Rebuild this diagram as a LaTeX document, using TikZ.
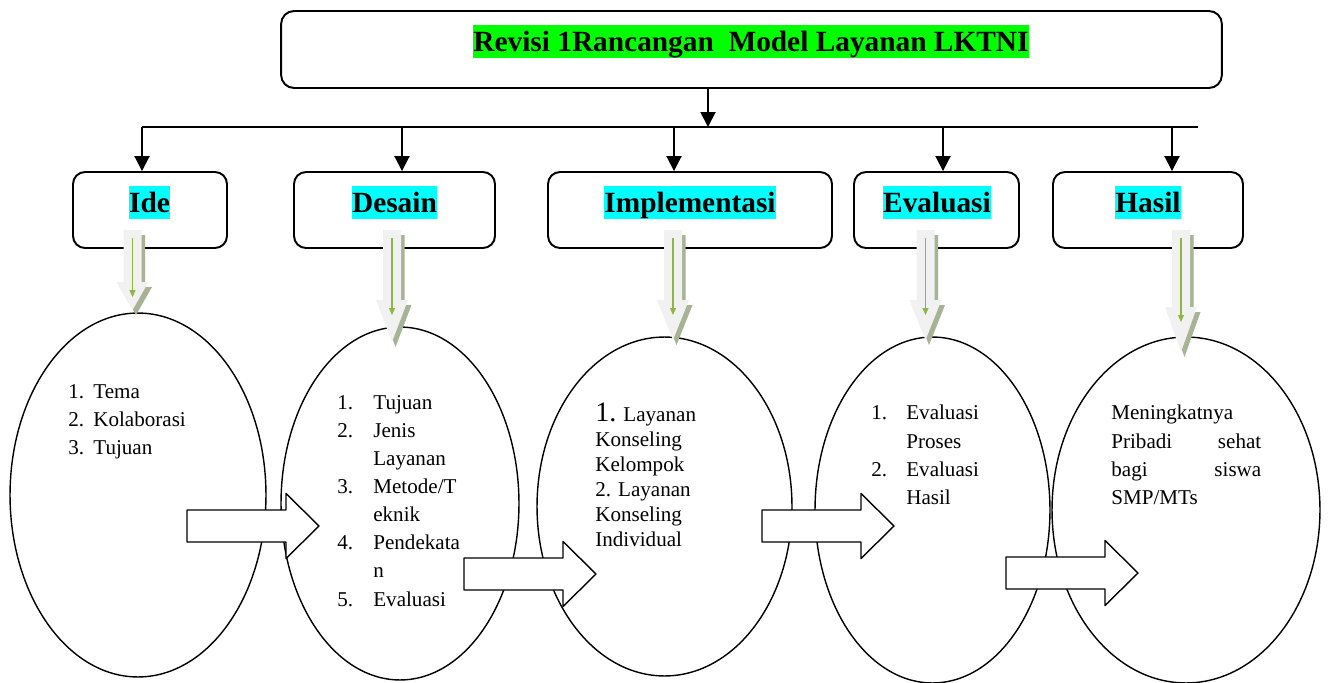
\documentclass[tikz,border=0pt]{standalone}
\usepackage{fontspec}
\setmainfont{Liberation Serif}
\usetikzlibrary{arrows.meta,shapes.geometric}
\definecolor{hijauterang}{RGB}{0,255,0}
\definecolor{birumuda}{RGB}{0,255,255}
\definecolor{abumuda}{RGB}{241,241,241}
\definecolor{bayangan}{RGB}{166,179,148}
\definecolor{hijaudaun}{RGB}{141,182,69}
\newcommand{\butir}[2]{\makebox[#1][l]{#2}}
\begin{document}
\begin{tikzpicture}[x=0.02cm,y=-0.02cm,line join=round,>={Triangle[length=3mm,width=3mm]},
	kotak/.style={draw,line width=1.1pt,rounded corners=0.24cm,minimum height=1.52cm,inner sep=0pt},
	sorot/.style={fill=#1,inner sep=0pt,text height=15pt,text depth=3.8pt,anchor=base,font=\bfseries\fontsize{16.7}{20}\selectfont},
	lingkar/.style={draw,ellipse,line width=0.8pt,inner sep=0pt},
	isi/.style={anchor=north west,inner sep=0pt,align=left,font=\fontsize{12}{16}\selectfont},
	garis/.style={line width=1.1pt},
	blok/.style={draw,fill=white,line width=0.8pt}]
	\useasboundingbox (0,0) rectangle (1330,683);
	% ellips
	\node[lingkar,minimum width=5.12cm,minimum height=7.28cm] (eIde) at (138,495) {};
	\node[lingkar,minimum width=4.76cm,minimum height=7.06cm] (eDesain) at (400,503.5) {};
	\node[lingkar,minimum width=5.1cm,minimum height=6.78cm] (eImpl) at (664.5,506.5) {};
	\node[lingkar,minimum width=4.7cm,minimum height=6.92cm] (eEval) at (932.5,510) {};
	\node[lingkar,minimum width=5.36cm,minimum height=6.92cm] (eHasil) at (1186,510) {};
	% panah blok
	\foreach \x/\y in {187/526,464/574,762/526,1006/573}
		\draw[blok] (\x,\y-16) -- ++(99,0) -- ++(0,-16.5) -- ++(33,32.5) -- ++(-33,32.5) -- ++(0,-16.5) -- ++(-99,0) -- cycle;
	% isi
	\node[isi] (tIde) at (68,384) {\butir{0.5cm}{1.}Tema\\ \butir{0.5cm}{2.}Kolaborasi\\ \butir{0.5cm}{3.}Tujuan};
	\node[isi] (tDesain) at (337,395) {\butir{0.72cm}{1.}Tujuan\\ \butir{0.72cm}{2.}Jenis\\ \hspace*{0.72cm}Layanan\\ \butir{0.72cm}{3.}Metode/T\\ \hspace*{0.72cm}eknik\\ \butir{0.72cm}{4.}Pendekata\\ \hspace*{0.72cm}n\\ \butir{0.72cm}{5.}Evaluasi};
	\node[isi,font=\fontsize{12}{14.2}\selectfont] (tImpl) at (595,403) {{\fontsize{16}{14.2}\selectfont 1.} Layanan\\ Konseling\\ Kelompok\\ 2. Layanan\\ Konseling\\ Individual};
	\node[isi] (tEval) at (871,405) {\butir{0.7cm}{1.}Evaluasi\\ \hspace*{0.7cm}Proses\\ \butir{0.7cm}{2.}Evaluasi\\ \hspace*{0.7cm}Hasil};
	\node[isi] (tHasil) at (1111,405) {Meningkatnya\\ \makebox[3cm][s]{Pribadi\hfill sehat}\\ \makebox[3cm][s]{bagi\hfill siswa}\\ SMP/MTs};
	% kotak
	\node[kotak,minimum width=18.82cm,minimum height=1.54cm,rounded corners=0.26cm] (judul) at (751.5,49.5) {};
	\node[sorot=hijauterang] (tJudul) at (751,51.5) {Revisi 1Rancangan\ \ Model Layanan LKTNI};
	\node[kotak,minimum width=3.08cm] (ide) at (150,210) {};
	\node[kotak,minimum width=4.02cm] (desain) at (394.5,210) {};
	\node[kotak,minimum width=5.68cm] (impl) at (690,210) {};
	\node[kotak,minimum width=3.3cm] (eval) at (936.5,210) {};
	\node[kotak,minimum width=3.8cm] (hasil) at (1148,210) {};
	\node[sorot=birumuda] (lIde) at (149.5,212.5) {Ide};
	\node[sorot=birumuda] (lDesain) at (394.5,212.5) {Desain};
	\node[sorot=birumuda] (lImpl) at (690,212.5) {Implementasi};
	\node[sorot=birumuda] (lEval) at (937,212.5) {Evaluasi};
	\node[sorot=birumuda] (lHasil) at (1148,212.5) {Hasil};
	% penghubung
	\coordinate (busKiri) at (142,127);
	\coordinate (busKanan) at (1198,127);
	\draw[garis,->] (judul.south -| 708,0) -- (708,127);
	\draw[garis] (busKiri) -- (busKanan);
	\foreach \n/\x in {ide/142,desain/402,impl/674,eval/943,hasil/1172}
		\draw[garis,->] (\x,127) -- (\x,0 |- \n.north);
	% panah hijau
	\foreach \c/\h/\t in {132.5/282/310,392/300/342,673/300/340,925.5/300/340,1181/307/352}{
		\fill[bayangan,shift={(3.5,5)}] (\c-9,230) -- (\c+9,230) -- (\c+9,\h) -- (\c+16,\h) -- (\c,\t) -- (\c-16,\h) -- (\c-9,\h) -- cycle;
		\fill[abumuda] (\c-9,230) -- (\c+9,230) -- (\c+9,\h) -- (\c+16,\h) -- (\c,\t) -- (\c-16,\h) -- (\c-9,\h) -- cycle;
		\draw[hijaudaun,line width=0.6pt,-{Triangle[length=1.4mm,width=1.2mm]}] (\c,238) -- (\c,\h+15);
	}
\end{tikzpicture}
\end{document}
